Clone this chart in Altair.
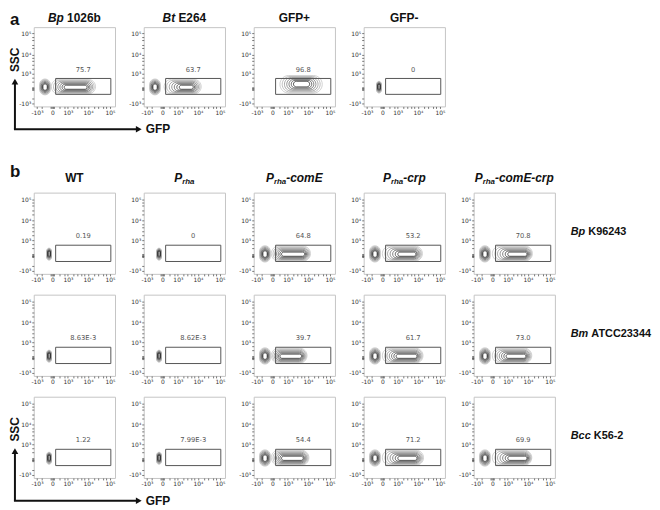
import altair as alt
import numpy as np
import pandas as pd

# ---------------- axis (biexponential look, symlog scale) ----------------
SYMLOG_C = 250
x_domain = [-1500, 170000]
y_domain = [-1500, 200000]
major_ticks = [-1000, 0, 1000, 10000, 100000]
x_tick_labels = ["-10³", "0", "10³", "10⁴", "10⁵"]
y_tick_labels = ["-10³", "", "10³", "10⁴", "10⁵"]
minor_ticks = [-500, -40, -20, 20, 40, 300, 600, 2000, 3000, 5000, 7000,
               20000, 30000, 50000, 70000]

# ---------------- texts ----------------
a_title_italic = ["Bp", "Bt", "", ""]
a_title_plain = ["1026b", "E264", "GFP+", "GFP-"]
b_col_main = ["WT", "P", "P", "P", "P"]
b_col_sub = ["", "rha", "rha", "rha", "rha"]
b_col_rest = ["", "", "-comE", "-crp", "-comE-crp"]
row_italic = ["Bp", "Bm", "Bcc"]
row_plain = ["K96243", "ATCC23344", "K56-2"]

# ---------------- panel values (4 panels of a, then 3x5 of b) ----------------
gate_pct = ["75.7", "63.7", "96.8", "0",
            "0.19", "0", "64.8", "53.2", "70.8",
            "8.63E-3", "8.62E-3", "39.7", "61.7", "73.0",
            "1.22", "7.99E-3", "54.4", "71.2", "69.9"]
gate_x = [100, 110000]
gate_y = [-220, 500]
gate_label_y = 1700

neg_type = ["big", "big", "none", "small",
            "small", "small", "big", "big", "big",
            "small", "small", "big", "big", "big",
            "small", "small", "big", "big", "big"]
pos_kind = ["flat", "flat", "oval", "none",
            "none", "none", "flat", "flat", "flat",
            "none", "none", "flat", "flat", "flat",
            "none", "none", "flat", "flat", "flat"]
pos_out_lo = [-30, 50, 300, 0, 0, 0, -30, 0, 0, 0, 0, -30, 0, 0, 0, 0, -30, 0, 0]
pos_out_hi = [22000, 14000, 45000, 0, 0, 0, 13000, 16000, 16000,
              0, 0, 9000, 17000, 15000, 0, 0, 11000, 18000, 15000]
pos_in_lo = [600, 1200, 2000, 0, 0, 0, 400, 1000, 1000,
             0, 0, 300, 800, 800, 0, 0, 400, 1000, 1000]
pos_in_hi = [9000, 6000, 12000, 0, 0, 0, 7000, 8000, 9000,
             0, 0, 5000, 9000, 8000, 0, 0, 6000, 9000, 9000]
flat_y_out = [-200, 430]
flat_y_in = [-20, 110]
oval_y_out = [-160, 780]
oval_y_in = [50, 300]
neg_big_out = [-700, -60, -250, 460]
neg_big_in = [-420, -180, -50, 160]
neg_small_out = [-200, -30, -160, 300]
neg_small_in = [-140, -70, -20, 150]

ring_shades = ["#bdbdbd", "#a2a2a2", "#868686", "#6a6a6a", "#4c4c4c", "#313131", "#171717"]

W, HA, HB, SPACER = 82, 80, 82, 45


def fwd(v):
    v = np.asarray(v, dtype=float)
    return np.sign(v) * np.log1p(np.abs(v) / SYMLOG_C)


def inv(u):
    u = np.asarray(u, dtype=float)
    return np.sign(u) * SYMLOG_C * np.expm1(np.abs(u))


def rings(out_box, in_box):
    fo, fi = fwd(out_box), fwd(in_box)
    n = len(ring_shades)
    rows = []
    for k, col in enumerate(ring_shades):
        b = inv(fo + (fi - fo) * k / (n - 1))
        rows.append({"x": b[0], "x2": b[1], "y": b[2], "y2": b[3], "shade": col})
    return rows


def lab_expr(labels):
    parts = [f"datum.value == {v} ? '{l}'" for v, l in zip(major_ticks, labels)]
    return " : ".join(parts) + " : ''"


axis_common = dict(values=major_ticks + minor_ticks, labelFontSize=6, labelColor="#333",
                   labelFont="DejaVu Sans", tickColor="#555", tickWidth=0.8, tickSize=2,
                   domain=False, grid=False, labelPadding=1, labelOverlap=False,
                   labelFlush=False, title=None)


def xenc(field):
    return alt.X(field, type="quantitative", title=None,
                 scale=alt.Scale(type="symlog", constant=SYMLOG_C, domain=x_domain,
                                 nice=False, zero=False),
                 axis=alt.Axis(labelExpr=lab_expr(x_tick_labels), **axis_common))


def yenc(field):
    return alt.Y(field, type="quantitative", title=None,
                 scale=alt.Scale(type="symlog", constant=SYMLOG_C, domain=y_domain,
                                 nice=False, zero=False),
                 axis=alt.Axis(labelExpr=lab_expr(y_tick_labels), **axis_common))


ONE = pd.DataFrame({"k": [0]})
BOLD_W = {" ": 278, "-": 333, "+": 584, "A": 722, "B": 722, "C": 722, "E": 667, "F": 611,
          "G": 778, "K": 722, "P": 667, "S": 667, "T": 611, "W": 944, "a": 556, "b": 611,
          "c": 556, "e": 556, "h": 611, "m": 889, "o": 611, "p": 611, "r": 389, "t": 333}


def text_w(s, size):
    return sum(BOLD_W.get(ch, 556) for ch in s) * size / 1000.0


def deco_text(text, x, y, size, italic=False, align="left", baseline="middle", angle=None):
    kw = dict(text=text, fontSize=size, fontWeight="bold",
              fontStyle="italic" if italic else "normal", align=align, baseline=baseline,
              color="#111", font="Liberation Sans")
    if angle is not None:
        kw["angle"] = angle
    return alt.Chart(ONE).mark_text(**kw).encode(x=alt.value(x), y=alt.value(y))


def seg_line(segs, x, y, anchor="center", size=12, sub_size=8, sub_dy=4):
    widths = [text_w(t, sub_size if sub else size) for t, it, sub in segs]
    cur = x - sum(widths) / 2 if anchor == "center" else x
    out = []
    for (t, it, sub), wd in zip(segs, widths):
        if t.strip():
            out.append(deco_text(t, cur, y + (sub_dy if sub else 0),
                                 sub_size if sub else size, italic=it))
        cur += wd
    return out


def axis_arrows(h):
    k = "#111"
    yb = h + 23
    return [
        alt.Chart(ONE).mark_rule(color=k, strokeWidth=2).encode(
            x=alt.value(-19), y=alt.value(56), y2=alt.value(yb)),
        alt.Chart(ONE).mark_rule(color=k, strokeWidth=2).encode(
            x=alt.value(-20), x2=alt.value(104), y=alt.value(yb)),
        alt.Chart(ONE).mark_point(shape="triangle-up", filled=True, size=45, color=k,
                                  opacity=1).encode(x=alt.value(-19), y=alt.value(55)),
        alt.Chart(ONE).mark_point(shape="triangle-right", filled=True, size=45, color=k,
                                  opacity=1).encode(x=alt.value(106), y=alt.value(yb)),
        deco_text("SSC", -19, 33, 12, align="center", angle=270),
        deco_text("GFP", 113, yb, 12),
    ]


def blank(h):
    return alt.Chart(ONE).mark_text(text="").encode(
        x=alt.value(0), y=alt.value(0)).properties(
        width=W, height=h, view=alt.ViewBackground(strokeOpacity=0))


gate_lx = float(inv((fwd(gate_x[0]) + fwd(gate_x[1])) / 2))

cells = []
for i in range(19):
    is_a = i < 4
    h = HA if is_a else HB
    rows = []
    if neg_type[i] == "big":
        rows += rings(neg_big_out, neg_big_in)
    elif neg_type[i] == "small":
        rows += rings(neg_small_out, neg_small_in)
    if pos_kind[i] != "none":
        yo = oval_y_out if pos_kind[i] == "oval" else flat_y_out
        yi = oval_y_in if pos_kind[i] == "oval" else flat_y_in
        rows += rings([pos_out_lo[i], pos_out_hi[i], yo[0], yo[1]],
                      [pos_in_lo[i], pos_in_hi[i], yi[0], yi[1]])
    cont = pd.DataFrame(rows)
    gate = pd.DataFrame({"x": [gate_x[0]], "x2": [gate_x[1]], "y": [gate_y[0]],
                         "y2": [gate_y[1]], "lx": [gate_lx], "ly": [gate_label_y],
                         "lab": [gate_pct[i]]})

    layers = [
        alt.Chart(cont).mark_rect(fillOpacity=0, strokeWidth=0.7, cornerRadius=40).encode(
            x=xenc("x"), x2="x2", y=yenc("y"), y2="y2",
            stroke=alt.Stroke("shade:N", scale=None)),
        alt.Chart(gate).mark_rect(fillOpacity=0, stroke="#555", strokeWidth=1).encode(
            x=xenc("x"), x2="x2", y=yenc("y"), y2="y2"),
        alt.Chart(gate).mark_text(fontSize=6.8, color="#555", font="DejaVu Sans").encode(
            x=xenc("lx"), y=yenc("ly"), text="lab:N"),
    ]
    extras = []
    if is_a:
        if a_title_italic[i]:
            segs = [(a_title_italic[i], True, False), (" ", False, False),
                    (a_title_plain[i], False, False)]
        else:
            segs = [(a_title_plain[i], False, False)]
        extras += seg_line(segs, W / 2, -9)
    else:
        r, j = (i - 4) // 5, (i - 4) % 5
        if r == 0:
            if b_col_sub[j]:
                segs = [(b_col_main[j], True, False), (b_col_sub[j], True, True),
                        (b_col_rest[j], True, False)]
            else:
                segs = [(b_col_main[j], False, False)]
            extras += seg_line(segs, W / 2, -15)
        if j == 4:
            segs = [(row_italic[r], True, False), (" ", False, False),
                    (row_plain[r], False, False)]
            extras += seg_line(segs, W + 16, 40, anchor="left", size=11)
    if i == 0:
        extras += [deco_text("a", -24, -2, 17, baseline="alphabetic")] + axis_arrows(h)
    if i == 4:
        extras += [deco_text("b", -24, -16, 17, baseline="alphabetic")]
    if i == 14:
        extras += axis_arrows(h)
    cells.append(alt.layer(*layers, *extras).properties(width=W, height=h))
    if i == 3:
        cells.append(blank(HA))
        cells += [blank(SPACER) for _ in range(5)]

chart = alt.concat(*cells, columns=5, spacing={"row": 21, "column": 29},
                   bounds="flush").properties(padding=0).configure_view(
    stroke="#c4c4c4", strokeWidth=1)

chart.save("out.html", embed_options={"renderer": "svg", "actions": False})
